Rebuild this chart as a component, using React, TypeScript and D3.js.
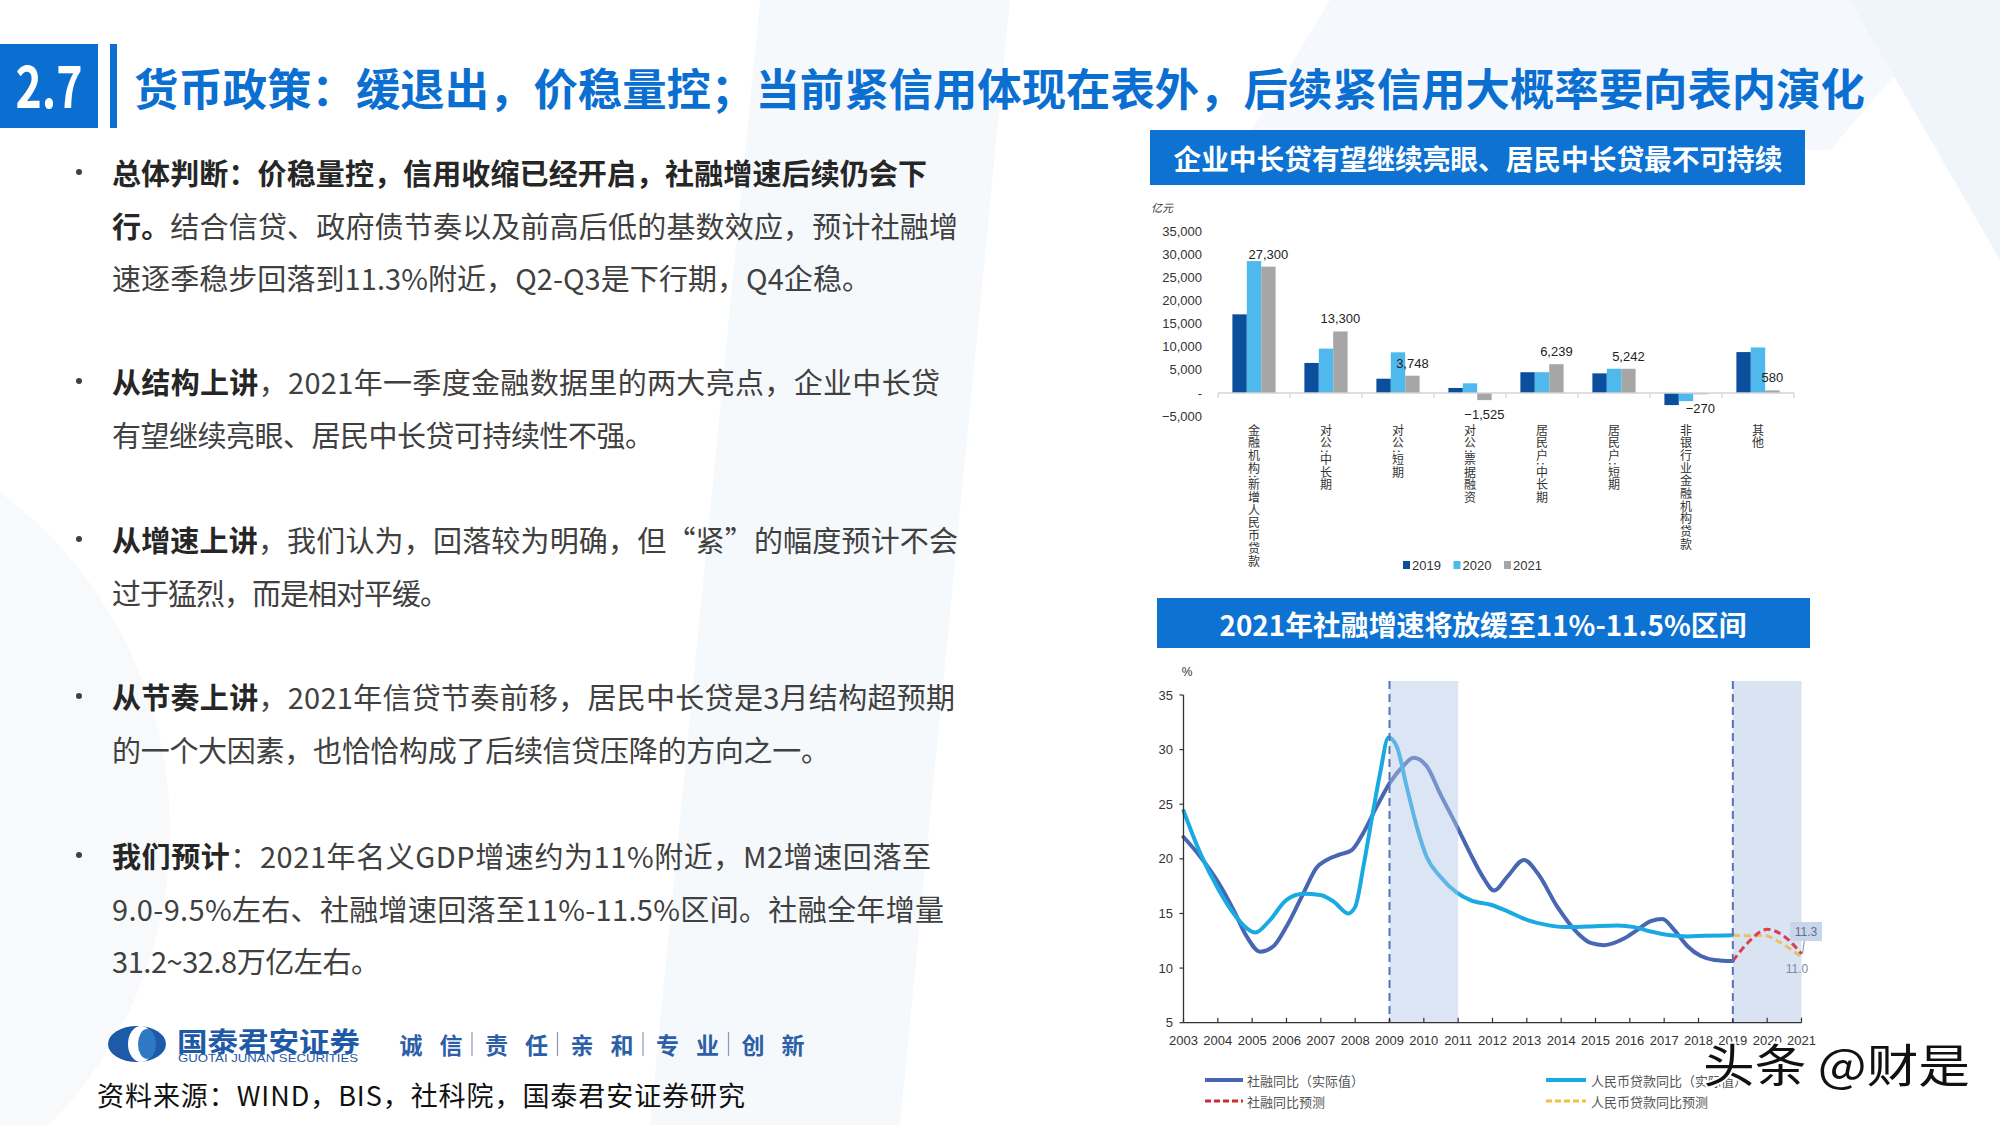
import React from 'react';
import * as d3 from 'd3';

const CJK = "'Noto Sans CJK SC','Noto Sans',sans-serif";
const LAT = "'Liberation Sans',Arial,'DejaVu Sans',sans-serif";

// ---------------- texts ----------------
const sectionNumber = '2.7';
const slideTitle = '货币政策：缓退出，价稳量控；当前紧信用体现在表外，后续紧信用大概率要向表内演化';
const barPanelTitle = '企业中长贷有望继续亮眼、居民中长贷最不可持续';
const linePanelTitle = '2021年社融增速将放缓至11%-11.5%区间';
const sourceText = '资料来源：WIND，BIS，社科院，国泰君安证券研究';
const companyName = '国泰君安证券';
const companyNameEn = 'GUOTAI JUNAN SECURITIES';
const slogan = ['诚信', '责任', '亲和', '专业', '创新'];
const watermark = '头条 @财是';

const bulletParagraphs = [
  [
    { bold: '总体判断：价稳量控，信用收缩已经开启，社融增速后续仍会下', rest: '' },
    { bold: '行。', rest: '结合信贷、政府债节奏以及前高后低的基数效应，预计社融增' },
    { bold: '', rest: '速逐季稳步回落到11.3%附近，Q2-Q3是下行期，Q4企稳。' },
  ],
  [
    { bold: '从结构上讲', rest: '，2021年一季度金融数据里的两大亮点，企业中长贷' },
    { bold: '', rest: '有望继续亮眼、居民中长贷可持续性不强。' },
  ],
  [
    { bold: '从增速上讲', rest: '，我们认为，回落较为明确，但“紧”的幅度预计不会' },
    { bold: '', rest: '过于猛烈，而是相对平缓。' },
  ],
  [
    { bold: '从节奏上讲', rest: '，2021年信贷节奏前移，居民中长贷是3月结构超预期' },
    { bold: '', rest: '的一个大因素，也恰恰构成了后续信贷压降的方向之一。' },
  ],
  [
    { bold: '我们预计', rest: '：2021年名义GDP增速约为11%附近，M2增速回落至' },
    { bold: '', rest: '9.0-9.5%左右、社融增速回落至11%-11.5%区间。社融全年增量' },
    { bold: '', rest: '31.2~32.8万亿左右。' },
  ],
];
// layout for the text block (line widths and paragraph tops)
const bulletLineWidths = [[815, 846, 759], [828, 542], [846, 337], [843, 718], [819, 832, 268]];
const bulletTops = [172, 381, 539, 696, 855];

// ---------------- bar chart data ----------------
const barUnit = '亿元';
const barCategories = ['金融机构:新增人民币贷款', '对公:中长期', '对公:短期', '对公:票据融资', '居民户:中长期', '居民户:短期', '非银行业金融机构贷款', '其他'];
const barSeriesNames = ['2019', '2020', '2021'];
const bar2019 = [17000, 6500, 3100, 1100, 4500, 4250, -2600, 8850];
const bar2020 = [28500, 9600, 8800, 2100, 4500, 5250, -1750, 9850];
const bar2021 = [27300, 13300, 3748, -1525, 6239, 5242, -270, 580];
const barYTicks = [-5000, 0, 5000, 10000, 15000, 20000, 25000, 30000, 35000];
const barColors = ['#0b4f9c', '#4fb9ee', '#a6a6a6'];

// ---------------- line chart data ----------------
const lineUnit = '%';
const lineYearTicks = ['2003', '2004', '2005', '2006', '2007', '2008', '2009', '2010', '2011', '2012', '2013', '2014', '2015', '2016', '2017', '2018', '2019', '2020', '2021'];
const lineYTicks = [5, 10, 15, 20, 25, 30, 35];
const tsfActual: [number, number][] = [
  [2003, 22.0], [2003.49, 20.2], [2004.02, 17.8], [2004.46, 15.3], [2004.84, 12.9], [2005.23, 11.5], [2005.62, 12.0],
  [2006.0, 13.8], [2006.5, 16.9], [2006.88, 19.2], [2007.17, 19.9], [2007.56, 20.4], [2007.9, 20.8], [2008.24, 22.4],
  [2008.63, 24.8], [2009.02, 27.0], [2009.4, 28.5], [2009.7, 29.25], [2010.08, 28.5], [2010.47, 26.0], [2010.96, 23.0],
  [2011.35, 20.5], [2011.71, 18.4], [2012.05, 17.1], [2012.44, 18.4], [2012.92, 19.9], [2013.31, 18.7], [2013.89, 15.6],
  [2014.48, 13.2], [2014.86, 12.3], [2015.25, 12.1], [2015.83, 12.7], [2016.22, 13.5], [2016.61, 14.3], [2016.95, 14.5],
  [2017.29, 13.5], [2017.68, 12.0], [2018.07, 11.1], [2018.46, 10.75], [2019, 10.65],
];
const loanActual: [number, number][] = [
  [2003, 24.4], [2003.49, 20.5], [2004.02, 17.2], [2004.46, 15.0], [2004.84, 13.65], [2005.09, 13.25], [2005.52, 14.4],
  [2006.0, 16.25], [2006.5, 16.8], [2006.98, 16.7], [2007.37, 16.1], [2007.8, 15.0], [2008.0, 15.6], [2008.24, 19.3],
  [2008.48, 23.6], [2008.73, 27.9], [2008.97, 31.1], [2009.21, 30.3], [2009.5, 26.6], [2009.79, 23.0], [2010.08, 20.2],
  [2010.47, 18.4], [2010.96, 16.9], [2011.37, 16.2], [2011.95, 15.8], [2012.44, 15.2], [2013.02, 14.4], [2013.5, 14.0],
  [2014.09, 13.75], [2014.77, 13.8], [2015.64, 13.9], [2016.13, 13.75], [2016.61, 13.35], [2017.19, 13.0], [2017.68, 12.9],
  [2018.17, 12.95], [2019, 13.0],
];
const tsfForecast: [number, number][] = [[2019, 10.65], [2019.43, 12.3], [2020, 13.55], [2020.5, 12.9], [2021, 11.3]];
const loanForecast: [number, number][] = [[2019, 13.0], [2019.52, 12.95], [2019.9, 13.0], [2020.4, 12.3], [2021, 11.0]];
const shadedPeriods: [number, number][] = [[2009, 2011], [2019, 2021]];
const lineLegend = ['社融同比（实际值）', '人民币贷款同比（实际值）', '社融同比预测', '人民币贷款同比预测'];
const lineColors = { tsf: '#4867b2', loan: '#1aaae2', tsfF: '#d7414f', loanF: '#e8c262' };

// ---------------- components ----------------
function VerticalLabel({ text, x, y }: { text: string; x: number; y: number }) {
  return (
    <text
      x={x}
      y={y}
      fontSize={12}
      fontFamily={CJK}
      fill="#333"
      style={{ writingMode: 'vertical-rl', letterSpacing: '0.7px' } as React.CSSProperties}
    >
      {text}
    </text>
  );
}

function BarChart() {
  const x = d3.scaleBand<string>().domain(barCategories).range([1218, 1794]).paddingInner(0.4).paddingOuter(0.2);
  const xi = d3.scaleBand<string>().domain(barSeriesNames).range([0, x.bandwidth()]);
  const y = d3.scaleLinear().domain([-5000, 35000]).range([416.2, 231]);
  const series = [bar2019, bar2020, bar2021];
  const fmt = d3.format(',');
  const y0 = y(0);
  const step = x.step();
  return (
    <g>
      <rect x={1141} y={191} width={683} height={396} fill="#ffffff" />
      <rect x={1150} y={130} width={655} height={55} fill="#0d72d1" />
      <text x={1478} y={158} fontSize={28} fontWeight={700} fontFamily={CJK} fill="#fff" textAnchor="middle" dominantBaseline="central" textLength={609} lengthAdjust="spacingAndGlyphs">
        {barPanelTitle}
      </text>
      <text x={1151} y={207} fontSize={11} fontFamily={CJK} fill="#333" dominantBaseline="central" fontStyle="italic">{barUnit}</text>
      {barYTicks.map((t) => (
        <text key={t} x={1202} y={y(t)} fontSize={13} fontFamily={LAT} fill="#333" textAnchor="end" dominantBaseline="central">
          {t === 0 ? '-' : fmt(t)}
        </text>
      ))}
      {barCategories.map((cat, ci) => (
        <g key={cat}>
          {series.map((vals, si) => {
            const v = vals[ci];
            const bx = (x(cat) as number) + (xi(barSeriesNames[si]) as number);
            return <rect key={si} x={bx} y={Math.min(y(v), y0)} width={xi.bandwidth()} height={Math.abs(y(v) - y0)} fill={barColors[si]} />;
          })}
        </g>
      ))}
      <line x1={1218} x2={1794} y1={y0} y2={y0} stroke="#d4d4d4" strokeWidth={1.5} />
      {d3.range(barCategories.length + 1).map((i) => (
        <line key={i} x1={1218 + i * step} x2={1218 + i * step} y1={y0} y2={y0 + 5} stroke="#d4d4d4" strokeWidth={1.2} />
      ))}
      {barCategories.map((cat, ci) => {
        const v = bar2021[ci];
        const cx = (x(cat) as number) + (xi('2021') as number) + xi.bandwidth() / 2;
        const ly = v >= 0 ? y(v) - 8 : y(v) + 18.5;
        return (
          <text key={cat} x={cx} y={ly} fontSize={13} fontFamily={LAT} fill="#222" textAnchor="middle">
            {fmt(v)}
          </text>
        );
      })}
      {barCategories.map((cat) => (
        <VerticalLabel key={cat} text={cat} x={(x(cat) as number) + x.bandwidth() / 2} y={424} />
      ))}
      {barSeriesNames.map((s, i) => (
        <g key={s}>
          <rect x={1403 + i * 50.5} y={561} width={7} height={8} fill={barColors[i]} />
          <text x={1412 + i * 50.5} y={565} fontSize={13} fontFamily={LAT} fill="#333" dominantBaseline="central">{s}</text>
        </g>
      ))}
    </g>
  );
}

function LineChart() {
  const lx = d3.scaleLinear().domain([2003, 2021]).range([1183.5, 1801.5]);
  const ly = d3.scaleLinear().domain([5, 35]).range([1022.7, 695]);
  const gen = d3.line<[number, number]>().x((d) => lx(d[0])).y((d) => ly(d[1])).curve(d3.curveMonotoneX);
  const shadeTop = 681;
  const axisY = ly(5);
  const last = tsfForecast[tsfForecast.length - 1];
  const lastL = loanForecast[loanForecast.length - 1];
  return (
    <g>
      <rect x={1140} y={648} width={685} height={477} fill="#ffffff" />
      <rect x={1157} y={598} width={653} height={50} fill="#0d72d1" />
      <text x={1483} y={624} fontSize={28} fontWeight={700} fontFamily={CJK} fill="#fff" textAnchor="middle" dominantBaseline="central" textLength={527} lengthAdjust="spacingAndGlyphs">
        {linePanelTitle}
      </text>
      {/* second shaded period below lines */}
      <rect x={lx(shadedPeriods[1][0])} y={shadeTop} width={lx(shadedPeriods[1][1]) - lx(shadedPeriods[1][0])} height={axisY - shadeTop} fill="#dae3f2" />
      <path d={gen(tsfActual) || ''} fill="none" stroke={lineColors.tsf} strokeWidth={4} strokeLinecap="round" />
      <path d={gen(loanActual) || ''} fill="none" stroke={lineColors.loan} strokeWidth={4} strokeLinecap="round" />
      <path d={gen(loanForecast) || ''} fill="none" stroke={lineColors.loanF} strokeWidth={3} strokeDasharray="7 4" />
      <path d={gen(tsfForecast) || ''} fill="none" stroke={lineColors.tsfF} strokeWidth={3} strokeDasharray="7 4" />
      {/* first shaded period on top */}
      <rect x={lx(shadedPeriods[0][0])} y={shadeTop} width={lx(shadedPeriods[0][1]) - lx(shadedPeriods[0][0])} height={axisY - shadeTop} fill="#b2c5e6" opacity={0.45} />
      {shadedPeriods.map((p, i) => (
        <line key={i} x1={lx(p[0])} x2={lx(p[0])} y1={shadeTop} y2={axisY} stroke="#5574b8" strokeWidth={2} strokeDasharray="8 5" />
      ))}
      {/* axes */}
      <line x1={lx(2003)} x2={lx(2003)} y1={ly(35)} y2={axisY} stroke="#333" strokeWidth={1.3} />
      <line x1={lx(2003)} x2={lx(2021)} y1={axisY} y2={axisY} stroke="#333" strokeWidth={1.3} />
      {lineYTicks.map((t) => (
        <g key={t}>
          <line x1={lx(2003) - 4} x2={lx(2003)} y1={ly(t)} y2={ly(t)} stroke="#333" strokeWidth={1.2} />
          <text x={1173} y={ly(t)} fontSize={13} fontFamily={LAT} fill="#333" textAnchor="end" dominantBaseline="central">{t}</text>
        </g>
      ))}
      {lineYearTicks.map((t) => (
        <g key={t}>
          <line x1={lx(+t)} x2={lx(+t)} y1={axisY} y2={axisY - 5} stroke="#333" strokeWidth={1.2} />
          <text x={lx(+t)} y={1045} fontSize={13} fontFamily={LAT} fill="#333" textAnchor="middle">{t}</text>
        </g>
      ))}
      <text x={1187} y={672} fontSize={12} fontFamily={LAT} fill="#333" textAnchor="middle" dominantBaseline="central">{lineUnit}</text>
      {/* end labels */}
      <line x1={lx(last[0]) + 3} x2={lx(last[0]) + 1} y1={940} y2={ly(last[1])} stroke="#8090a8" strokeWidth={1} />
      <rect x={1790} y={922} width={32} height={19} fill="#c9d5ea" />
      <text x={1806} y={931.5} fontSize={12} fontFamily={LAT} fill="#5f6f8e" textAnchor="middle" dominantBaseline="central">{last[1].toFixed(1)}</text>
      <text x={1797} y={ly(lastL[1]) + 12} fontSize={12} fontFamily={LAT} fill="#7c8aa6" textAnchor="middle" dominantBaseline="central">{lastL[1].toFixed(1)}</text>
      {/* legend */}
      <line x1={1205} x2={1243} y1={1080} y2={1080} stroke={lineColors.tsf} strokeWidth={4} />
      <text x={1247} y={1080} fontSize={13} fontFamily={CJK} fill="#555" dominantBaseline="central">{lineLegend[0]}</text>
      <line x1={1546} x2={1586} y1={1080} y2={1080} stroke={lineColors.loan} strokeWidth={4} />
      <text x={1591} y={1080} fontSize={13} fontFamily={CJK} fill="#555" dominantBaseline="central">{lineLegend[1]}</text>
      <line x1={1205} x2={1243} y1={1101} y2={1101} stroke="#d02a32" strokeWidth={3} strokeDasharray="6 3" />
      <text x={1247} y={1101} fontSize={13} fontFamily={CJK} fill="#555" dominantBaseline="central">{lineLegend[2]}</text>
      <line x1={1546} x2={1586} y1={1101} y2={1101} stroke="#f0c040" strokeWidth={3} strokeDasharray="6 3" />
      <text x={1591} y={1101} fontSize={13} fontFamily={CJK} fill="#555" dominantBaseline="central">{lineLegend[3]}</text>
    </g>
  );
}

function LeftText() {
  const lineStep = 52.5;
  return (
    <g>
      {bulletParagraphs.map((para, pi) => (
        <g key={pi}>
          <circle cx={79} cy={bulletTops[pi]} r={3} fill="#404040" />
          {para.map((ln, li) => (
            <text key={li} x={112} y={bulletTops[pi] + li * lineStep} fontSize={29} fontFamily={CJK} dominantBaseline="central" textLength={bulletLineWidths[pi][li]} lengthAdjust="spacing">
              {ln.bold ? <tspan fontWeight={700} fill="#262626">{ln.bold}</tspan> : null}
              {ln.rest ? <tspan fill="#404040">{ln.rest}</tspan> : null}
            </text>
          ))}
        </g>
      ))}
    </g>
  );
}

function Footer() {
  return (
    <g>
      {/* logo mark */}
      <ellipse cx={137} cy={1044} rx={29} ry={18} fill="#1d5aa8" />
      <ellipse cx={141} cy={1044} rx={13} ry={18} fill="#ffffff" />
      <ellipse cx={147} cy={1044} rx={9} ry={15} fill="#2f78c4" />
      <text x={177} y={1040} fontSize={27} fontWeight={700} fontFamily={CJK} fill="#1f5aa6" dominantBaseline="central" textLength={183} lengthAdjust="spacingAndGlyphs">{companyName}</text>
      <text x={178} y={1058} fontSize={10.5} fontFamily={LAT} fill="#1f5aa6" dominantBaseline="central" textLength={180} lengthAdjust="spacingAndGlyphs">{companyNameEn}</text>
      {slogan.map((s, k) => {
        const x0 = 411 + k * 85.5;
        return (
          <g key={s}>
            <text x={x0} y={1044} fontSize={23} fontWeight={700} fontFamily={CJK} fill="#2d5ea8" textAnchor="middle" dominantBaseline="central">{s[0]}</text>
            <text x={x0 + 40} y={1044} fontSize={23} fontWeight={700} fontFamily={CJK} fill="#2d5ea8" textAnchor="middle" dominantBaseline="central">{s[1]}</text>
            {k < slogan.length - 1 ? <line x1={x0 + 61} x2={x0 + 61} y1={1032} y2={1056} stroke="#8a9ab8" strokeWidth={1.2} /> : null}
          </g>
        );
      })}
      <text x={97} y={1094} fontSize={27} fontFamily={CJK} fill="#111" dominantBaseline="central" textLength={648} lengthAdjust="spacing">{sourceText}</text>
    </g>
  );
}

export default function App() {
  return (
    <svg width={2000} height={1125} viewBox="0 0 2000 1125" style={{ position: 'absolute', left: 0, top: 0, display: 'block' }} xmlns="http://www.w3.org/2000/svg">
      <rect x={0} y={0} width={2000} height={1125} fill="#ffffff" />
      {/* faint background shapes */}
      <polygon points="760,0 1010,0 900,1125 650,1125" fill="#f6f9fc" />
      <polygon points="1330,0 1960,0 1830,150 1240,150" fill="#f5f8fc" />
      <polygon points="1850,0 2000,0 2000,260" fill="#f0f5fb" />
      <circle cx={-250} cy={830} r={420} fill="#f7f9fb" />
      {/* title */}
      <rect x={0} y={44} width={98} height={84} fill="#0b6fd2" />
      <text x={49} y={108} fontSize={58} fontWeight={700} fontFamily={CJK} fill="#fff" textAnchor="middle" textLength={67} lengthAdjust="spacingAndGlyphs">{sectionNumber}</text>
      <rect x={110} y={44} width={7} height={84} fill="#0b6fd2" />
      <text x={134} y={87} fontSize={44} fontWeight={700} fontFamily={CJK} fill="#0b6fd2" dominantBaseline="central" textLength={1731} lengthAdjust="spacingAndGlyphs">{slideTitle}</text>
      <LeftText />
      <Footer />
      <BarChart />
      <LineChart />
      <text x={1703} y={1062} fontSize={46} fontFamily={CJK} fill="#111" stroke="#fff" strokeWidth={4} paintOrder="stroke" dominantBaseline="central" textLength={267} lengthAdjust="spacingAndGlyphs">{watermark}</text>
    </svg>
  );
}
